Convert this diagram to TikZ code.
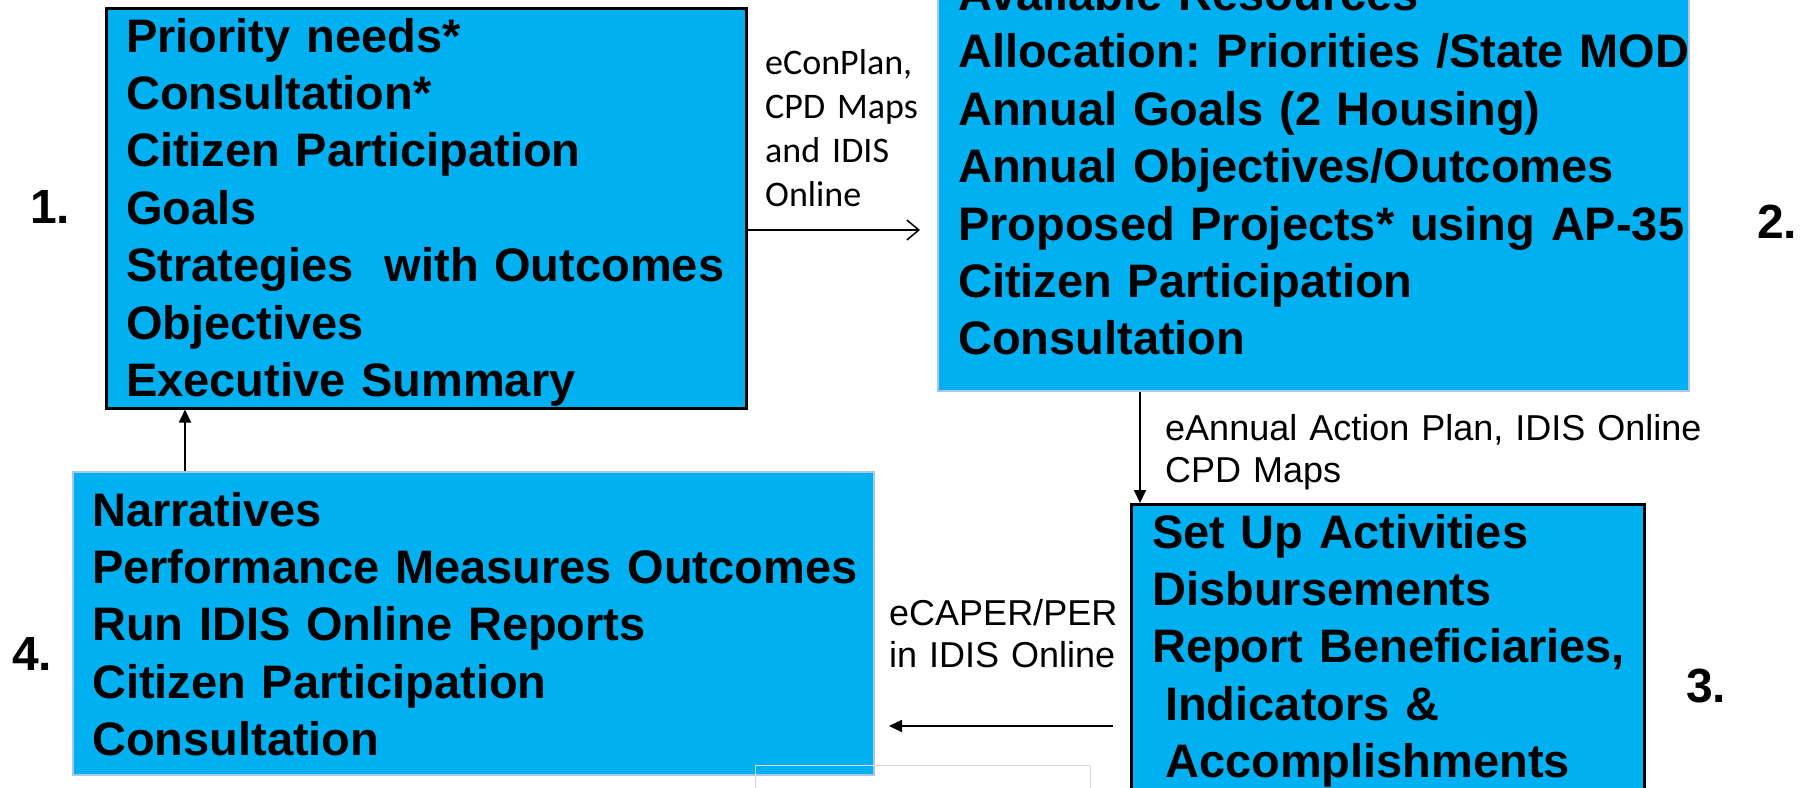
\documentclass[tikz,border=0pt]{standalone}
\usepackage{fontspec}
\setmainfont{Liberation Sans}
\newfontfamily\calib{Carlito}
\usetikzlibrary{arrows.meta}
\definecolor{boxblue}{HTML}{00B0F0}
\definecolor{paleedge}{RGB}{170,200,230}
\definecolor{faintgray}{RGB}{215,215,215}
\frenchspacing
\begin{document}
\begin{tikzpicture}[x=1pt,y=-1pt,
  box/.style={fill=boxblue, inner sep=0pt, anchor=north west},
  darkbox/.style={box, draw=black, line width=2.5pt},
  palebox/.style={box, draw=paleedge, line width=2pt},
  body/.style={font=\bfseries\fontsize{47}{57.4}\selectfont, anchor=base west, inner sep=0pt, text width=820pt, align=left},
  lab/.style={font=\fontsize{36}{42}\selectfont, anchor=base west, inner sep=0pt, text width=600pt, align=left},
  calilab/.style={font=\calib\fontsize{36}{44}\selectfont, anchor=base west, inner sep=0pt, text width=300pt, align=left},
  num/.style={font=\bfseries\fontsize{48}{50}\selectfont, anchor=base west, inner sep=0pt},
  conn/.style={line width=1.8pt, -{Triangle[length=13pt,width=12pt]}},
  openconn/.style={line width=1.5pt, -{Straight Barb[length=12pt,width=20pt,line width=1.5pt]}}
]
\useasboundingbox (0,0) rectangle (1804,787);
\clip (0,0) rectangle (1804,787);

% boxes
\node[darkbox, minimum width=640pt, minimum height=400pt] (b1) at (105,7) {};
\node[palebox, minimum width=751pt, minimum height=420pt] (b2) at (937,-30) {};
\node[darkbox, minimum width=513pt, minimum height=320pt] (b3) at (1130,503) {};
\node[palebox, minimum width=801pt, minimum height=303pt] (b4) at (72,471) {};
\node[draw=faintgray, line width=1pt, inner sep=0pt, anchor=north west, minimum width=335pt, minimum height=40pt] (blank) at (755,765) {};

% box texts
\node[body] (t1) at (126,52) {Priority needs*\\Consultation*\\Citizen Participation\\Goals\\Strategies~ with Outcomes\\Objectives\\Executive Summary};
\node[body] (t2) at (958,10.5) {Available Resources\\Allocation: Priorities /State MOD\\Annual Goals (2 Housing)\\Annual Objectives/Outcomes\\Proposed Projects* using AP-35\\Citizen Participation\\Consultation};
\node[body] (t3) at (1152,548) {Set Up Activities\\Disbursements\\Report Beneficiaries,\\\hspace*{13pt}Indicators \&\\\hspace*{13pt}Accomplishments};
\node[body] (t4) at (92,526) {Narratives\\Performance Measures Outcomes\\Run IDIS Online Reports\\Citizen Participation\\Consultation};

% numbers
\node[num] (n1) at (30,223) {1.};
\node[num] (n2) at (1757,238) {2.};
\node[num] (n3) at (1686,702) {3.};
\node[num] (n4) at (12,670) {4.};

% connector labels
\node[calilab] (l12) at (765,74) {eConPlan,\\CPD Maps\\and IDIS\\Online};
\node[lab] (l23) at (1165,440) {eAnnual Action Plan, IDIS Online\\CPD Maps};
\node[lab] (l34) at (889,625) {eCAPER/PER\\in IDIS Online};

% connectors
\coordinate (a12e) at (920,230);
\coordinate (a23x) at (1140,0);
\coordinate (a34s) at (1113,726);
\coordinate (a34e) at (889,726);
\coordinate (a41x) at (185,0);
\draw[openconn] (b1.east |- a12e) -- (a12e);
\draw[conn] (b2.south -| a23x) -- (b3.north -| a23x);
\draw[conn] (a34s) -- (a34e);
\draw[conn] (b4.north -| a41x) -- (b1.south -| a41x);
\end{tikzpicture}
\end{document}
